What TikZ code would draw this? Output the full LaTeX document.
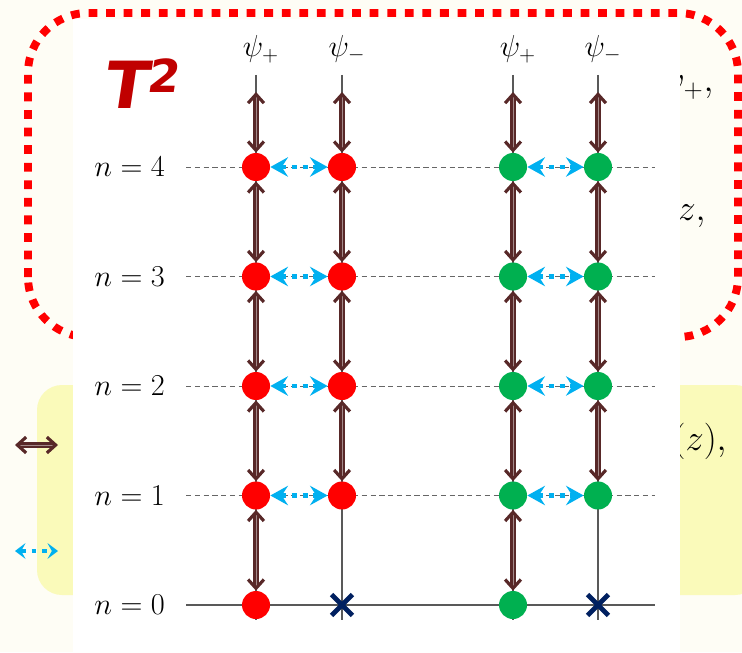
\documentclass[tikz,border=0pt]{standalone}
\usepackage{fontspec}
\newfontfamily\tfont[FakeSlant=0.15]{DejaVu Sans}
\usetikzlibrary{arrows.meta,shapes.misc}
\definecolor{brn}{RGB}{88,40,40}
\definecolor{cyn}{RGB}{0,176,240}
\definecolor{nvy}{RGB}{0,32,96}
\definecolor{grn}{RGB}{0,176,80}
\definecolor{dred}{RGB}{192,0,0}
\definecolor{cream}{RGB}{254,253,245}
\definecolor{ylw}{RGB}{250,250,186}
\begin{document}
\begin{tikzpicture}[font=\fontsize{17}{20}\selectfont,
    red node/.style={circle,fill=red,minimum size=0.56cm,inner sep=0pt},
    green node/.style={circle,fill=grn,minimum size=0.56cm,inner sep=0pt},
    zero node/.style={cross out,draw=nvy,line width=2.8pt,minimum size=0.32cm,inner sep=0pt},
    slide text/.style={inner sep=0pt,font=\fontsize{20}{24}\selectfont},
    ladder/.style={draw=brn,double=brn!55!white,double distance=0.5pt,line width=1.2pt,
      <->,>={Straight Barb[length=5pt,width=9pt,line width=1.8pt]}},
    mix/.style={draw=cyn,line width=2.8pt,dash pattern=on 2.8pt off 3.4pt,
      <->,>={Stealth[length=10pt,width=11pt,inset=3.5pt]}},
    small mix/.style={mix,>={Stealth[length=6pt,width=9pt,inset=2.5pt]}},
    level/.style={draw=black!60,line width=0.5pt,dash pattern=on 3pt off 2pt},
    axis/.style={draw=black!65,line width=0.6pt}]
  % slide behind the panel
  \fill[cream] (0,0) rectangle (14.84,13.04);
  \clip (0,0) rectangle (14.84,13.04);
  \draw[red,line width=4.5pt,dash pattern=on 5pt off 5pt,rounded corners=1.2cm]
    (0.56,6.3) rectangle (14.76,12.78);
  \fill[ylw,rounded corners=0.5cm] (0.74,1.14) rectangle (15.2,5.34);
  \coordinate (la) at (0.3,4.14); \coordinate (lb) at (1.16,4.14);
  \coordinate (lc) at (0.3,2.02); \coordinate (ld) at (1.16,2.02);
  \path (la) edge[ladder] (lb)
        (lc) edge[small mix] (ld);
  \node[slide text,anchor=base east] (t1) at (14.28,11.2) {$\psi_+,$};
  \node[slide text,anchor=base east] (t2) at (14.12,8.64) {$z,$};
  \node[slide text,anchor=base east] (t3) at (14.54,4.04) {$(z),$};
  % panel
  \fill[white] (1.46,0) rectangle (13.6,12.66);
  \node[text=dred,font=\tfont\bfseries\fontsize{37}{37}\selectfont] (T) at (2.82,11.36) {T\textsuperscript{2}};
  \foreach \n/\y in {0/0.94,1/3.13,2/5.32,3/7.51,4/9.70} {
    \node[anchor=east] (n\n) at (3.42,\y) {$n=\n$};
    \coordinate (a\n) at (3.72,\y); \coordinate (b\n) at (13.1,\y);
  }
  \draw[axis] (a0) -- (b0);
  \foreach \n in {1,...,4} \draw[level] (a\n) -- (b\n);
  \foreach \col/\x/\s in {rp/5.12/+,rm/6.84/-,gp/10.26/+,gm/11.96/-} {
    \coordinate (\col t) at (\x,11.54); \coordinate (\col b) at (\x,0.64);
    \coordinate (\col h) at (\x,11.2);
    \draw[axis] (\col t) -- (\col b);
    \node (\col l) at (\x+0.1,12.06) {$\psi_\s$};
  }
  \foreach \n/\y in {0/0.94,1/3.13,2/5.32,3/7.51,4/9.70} {
    \node[red node] (rp\n) at (5.12,\y) {};
    \node[green node] (gp\n) at (10.26,\y) {};
  }
  \foreach \n/\y in {1/3.13,2/5.32,3/7.51,4/9.70} {
    \node[red node] (rm\n) at (6.84,\y) {};
    \node[green node] (gm\n) at (11.96,\y) {};
  }
  \node[zero node] (rm0) at (6.84,0.94) {};
  \node[zero node] (gm0) at (11.96,0.94) {};
  \foreach \col in {rp,rm,gp,gm}
    \path (\col h) edge[ladder] (\col4)
          (\col4) edge[ladder] (\col3)
          (\col3) edge[ladder] (\col2)
          (\col2) edge[ladder] (\col1);
  \path (rp1) edge[ladder] (rp0)
        (gp1) edge[ladder] (gp0);
  \foreach \n in {1,...,4}
    \path (rp\n) edge[mix] (rm\n)
          (gp\n) edge[mix] (gm\n);
\end{tikzpicture}
\end{document}
